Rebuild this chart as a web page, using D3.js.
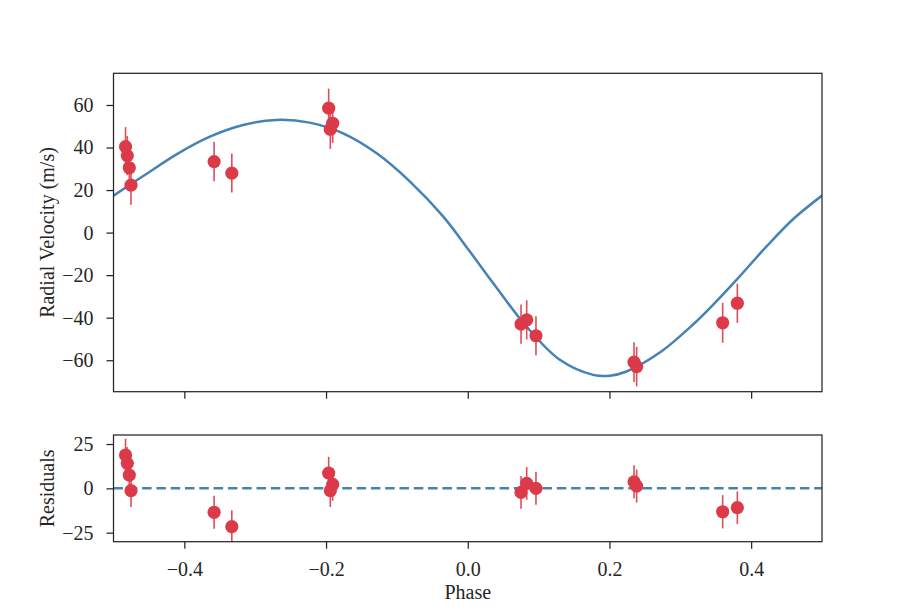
<!DOCTYPE html>
<html>
<head>
<meta charset="utf-8">
<script src="https://cdn.jsdelivr.net/npm/d3@7"></script>
<style>
  html, body { margin: 0; padding: 0; background: #fff; }
  svg text { font-family: "Liberation Serif", "Times New Roman", serif; fill: #262626; }
</style>
</head>
<body>
<svg id="chart" width="913" height="609"></svg>
<script>
// ---- data ----
const phase = [-0.483, -0.4805, -0.4777, -0.4753, -0.358, -0.333, -0.1963, -0.1906, -0.194,
               0.0752, 0.0832, 0.0963, 0.2347, 0.2384, 0.3598, 0.3805];
const radialVelocity = [40.4, 36.2, 30.5, 22.3, 33.4, 28.0, 58.5, 51.4, 48.6,
                        -43.0, -41.0, -48.5, -60.9, -63.0, -42.4, -33.2];
const velocityError = [9.2, 9.2, 9.2, 9.2, 9.3, 9.2, 9.2, 9.2, 9.2,
                       9.2, 9.2, 9.2, 9.3, 9.3, 9.4, 9.2];
const residuals = [18.8, 14.1, 7.5, -1.3, -13.5, -21.6, 8.6, 2.2, -1.3,
                   -2.3, 2.8, 0.0, 3.7, 1.3, -13.2, -10.9];
const modelPhase = [-0.5, -0.458, -0.411, -0.364, -0.317, -0.270, -0.223, -0.176, -0.1285,
                    -0.0815, -0.0345, 0.003, 0.036, 0.083, 0.130, 0.177, 0.2008, 0.224,
                    0.271, 0.318, 0.342, 0.3796, 0.422, 0.4595, 0.5];
const modelVelocity = [17.4, 26.6, 36.8, 45.1, 50.6, 53.0, 51.7, 46.7, 37.3,
                       24.0, 7.5, -8.9, -23.8, -44.2, -59.8, -66.9, -67.3, -65.3,
                       -56.4, -43.2, -35.4, -22.1, -6.4, 6.4, 17.4];
const xTicks = [-0.4, -0.2, 0.0, 0.2, 0.4];
const rvTicks = [-60, -40, -20, 0, 20, 40, 60];
const resTicks = [-25, 0, 25];

// ---- layout ----
const svg = d3.select("#chart");
const left = 113.5, right = 822;
const topP = {y0: 73.3, y1: 391.7};
const botP = {y0: 435, y1: 541.7};
const axisColor = "#262626";
const red = "#dc3a48";
const blue = "#4682b4";
const fontSize = 20;

const x = d3.scaleLinear().domain([-0.5, 0.5]).range([left, right]);
const yTop = d3.scaleLinear().domain([-74.8, 74.9]).range([topP.y1, topP.y0]);
const yRes = d3.scaleLinear().domain([-30.1, 30.1]).range([botP.y1, botP.y0]);

svg.append("defs").append("clipPath").attr("id", "clipTop")
  .append("rect").attr("x", left).attr("y", topP.y0)
  .attr("width", right - left).attr("height", topP.y1 - topP.y0);
svg.select("defs").append("clipPath").attr("id", "clipBot")
  .append("rect").attr("x", left).attr("y", botP.y0)
  .attr("width", right - left).attr("height", botP.y1 - botP.y0);

function styleAxis(g) {
  g.select(".domain").remove();
  g.selectAll(".tick line").attr("stroke", axisColor).attr("stroke-width", 1.25);
  g.selectAll(".tick text").attr("font-size", fontSize).attr("font-family", "Liberation Serif").attr("fill", axisColor);
}

// ---- top panel ----
const line = d3.line().x((d, i) => x(modelPhase[i])).y(d => yTop(d)).curve(d3.curveCatmullRom.alpha(0.5));
svg.append("path").datum(modelVelocity)
  .attr("clip-path", "url(#clipTop)")
  .attr("d", line).attr("fill", "none").attr("stroke", blue).attr("stroke-width", 2.5);

const topPts = svg.append("g").attr("clip-path", "url(#clipTop)");
phase.forEach((p, i) => {
  topPts.append("line")
    .attr("x1", x(p)).attr("x2", x(p))
    .attr("y1", yTop(radialVelocity[i] - velocityError[i]))
    .attr("y2", yTop(radialVelocity[i] + velocityError[i]))
    .attr("stroke", red).attr("stroke-width", 1.6).attr("opacity", 0.9);
  topPts.append("circle")
    .attr("cx", x(p)).attr("cy", yTop(radialVelocity[i])).attr("r", 6.6)
    .attr("fill", red);
});

svg.append("g").attr("transform", `translate(${left},0)`)
  .call(d3.axisLeft(yTop).tickValues(rvTicks).tickSize(7).tickPadding(13).tickFormat(d3.format("d")))
  .call(styleAxis);
svg.append("g").attr("transform", `translate(0,${topP.y1})`)
  .call(d3.axisBottom(x).tickValues(xTicks).tickSize(7).tickFormat(""))
  .call(styleAxis);
svg.append("rect").attr("x", left).attr("y", topP.y0)
  .attr("width", right - left).attr("height", topP.y1 - topP.y0)
  .attr("fill", "none").attr("stroke", axisColor).attr("stroke-width", 1.25);

svg.append("text")
  .attr("transform", `translate(53.5,${(topP.y0 + topP.y1) / 2}) rotate(-90)`)
  .attr("text-anchor", "middle").attr("font-size", fontSize)
  .text("Radial Velocity (m/s)");

// ---- bottom panel ----
svg.append("line")
  .attr("x1", x(-0.5)).attr("x2", x(0.5)).attr("y1", yRes(0)).attr("y2", yRes(0))
  .attr("stroke", blue).attr("stroke-width", 2.5).attr("stroke-dasharray", "9.5,4.8");

const botPts = svg.append("g").attr("clip-path", "url(#clipBot)");
phase.forEach((p, i) => {
  botPts.append("line")
    .attr("x1", x(p)).attr("x2", x(p))
    .attr("y1", yRes(residuals[i] - velocityError[i]))
    .attr("y2", yRes(residuals[i] + velocityError[i]))
    .attr("stroke", red).attr("stroke-width", 1.6).attr("opacity", 0.9);
  botPts.append("circle")
    .attr("cx", x(p)).attr("cy", yRes(residuals[i])).attr("r", 6.6)
    .attr("fill", red);
});

svg.append("g").attr("transform", `translate(${left},0)`)
  .call(d3.axisLeft(yRes).tickValues(resTicks).tickSize(7).tickPadding(13).tickFormat(d3.format("d")))
  .call(styleAxis);
svg.append("g").attr("transform", `translate(0,${botP.y1})`)
  .call(d3.axisBottom(x).tickValues(xTicks).tickSize(7).tickPadding(13.5).tickFormat(d3.format(".1f")))
  .call(styleAxis);
svg.append("rect").attr("x", left).attr("y", botP.y0)
  .attr("width", right - left).attr("height", botP.y1 - botP.y0)
  .attr("fill", "none").attr("stroke", axisColor).attr("stroke-width", 1.25);

svg.append("text")
  .attr("transform", `translate(53.5,${(botP.y0 + botP.y1) / 2}) rotate(-90)`)
  .attr("text-anchor", "middle").attr("font-size", fontSize)
  .text("Residuals");

svg.append("text")
  .attr("x", (left + right) / 2).attr("y", 599)
  .attr("text-anchor", "middle").attr("font-size", fontSize)
  .text("Phase");
</script>
</body>
</html>
